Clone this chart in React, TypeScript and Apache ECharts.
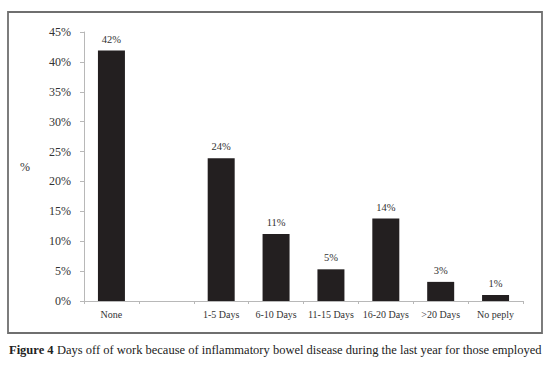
import React, { useEffect, useRef } from "react";
import * as echarts from "echarts";

const categories = ["None", "", "1-5 Days", "6-10 Days", "11-15 Days", "16-20 Days", ">20 Days", "No peply"];
const values: (number | null)[] = [41.9, null, 23.9, 11.2, 5.3, 13.8, 3.2, 1.0];
const valueLabels = ["42%", "", "24%", "11%", "5%", "14%", "3%", "1%"];
const yTicks = [0, 5, 10, 15, 20, 25, 30, 35, 40, 45];
const caption = "Days off of work because of inflammatory bowel disease during the last year for those employed";

const FONT = "'Liberation Serif', 'DejaVu Serif', serif";

export default function App() {
  const ref = useRef<HTMLDivElement>(null);
  useEffect(() => {
    if (!ref.current) return;
    const chart = echarts.init(ref.current, undefined, { renderer: "svg" });
    chart.setOption({
      animation: false,
      backgroundColor: "#ffffff",
      grid: { left: 84, right: 31, top: 32, bottom: 73 },
      xAxis: {
        type: "category",
        data: categories,
        axisLine: { lineStyle: { color: "#b8b8b8", width: 1 } },
        axisTick: { show: true, length: 3, lineStyle: { color: "#b8b8b8" } },
        axisLabel: { color: "#333", fontFamily: FONT, fontSize: 10, margin: 8, interval: 0 },
      },
      yAxis: {
        type: "value",
        min: yTicks[0],
        max: yTicks[yTicks.length - 1],
        interval: 5,
        name: "%",
        nameLocation: "middle",
        nameRotate: 0,
        nameGap: 54,
        nameTextStyle: { color: "#333", fontFamily: FONT, fontSize: 12 },
        axisLine: { show: true, lineStyle: { color: "#b8b8b8", width: 1 } },
        axisTick: { show: true, length: 4, lineStyle: { color: "#b8b8b8" } },
        splitLine: { show: false },
        axisLabel: {
          color: "#333",
          fontFamily: FONT,
          fontSize: 12,
          margin: 13,
          formatter: (v: number) => `${v}%`,
        },
      },
      series: [
        {
          type: "bar",
          data: values,
          barWidth: 27,
          itemStyle: { color: "#231f20" },
          label: {
            show: true,
            position: "top",
            distance: 6,
            color: "#333",
            fontFamily: FONT,
            fontSize: 10.5,
            formatter: (p: any) => valueLabels[p.dataIndex],
          },
        },
      ],
      graphic: [
        {
          type: "rect",
          shape: { x: 8, y: 12, width: 534, height: 321 },
          style: { fill: "none", stroke: "#6f6f6f", lineWidth: 1.8 },
          silent: true,
        },
        {
          type: "text",
          left: 9,
          top: 343,
          style: {
            rich: {
              b: { fontFamily: FONT, fontWeight: "bold", fontSize: 12.5, fill: "#222" },
              n: { fontFamily: FONT, fontSize: 12.5, fill: "#222" },
            },
            text: `{b|Figure 4} {n|${caption}}`,
          },
        },
      ],
    });
    return () => chart.dispose();
  }, []);
  return (
    <div
      ref={ref}
      style={{ position: "absolute", left: 0, top: 0, width: 554, height: 374, background: "#fff" }}
    />
  );
}
